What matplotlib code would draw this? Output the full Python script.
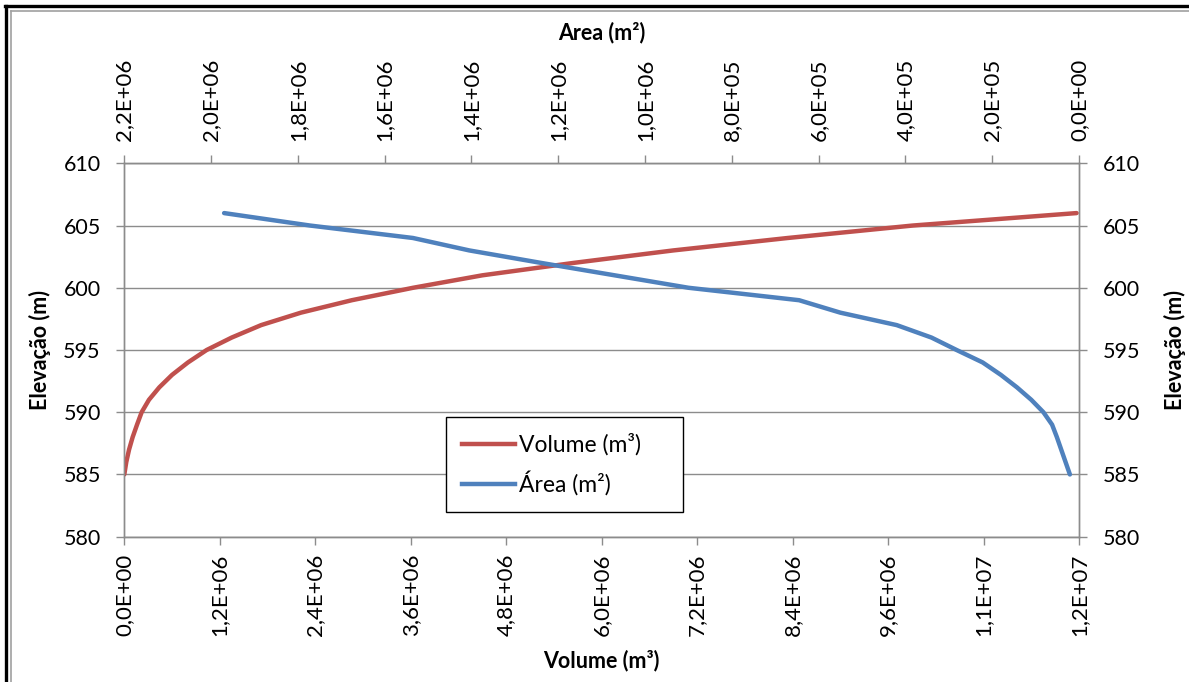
import matplotlib
matplotlib.use("Agg")
import matplotlib.pyplot as plt
from matplotlib.ticker import FixedLocator, FuncFormatter
from matplotlib.lines import Line2D

plt.rcParams['font.family'] = ['Lato', 'DejaVu Sans']

# ---- data ----
elevation = [585, 586, 587, 588, 589, 590, 591, 592, 593, 594, 595,
             596, 597, 598, 599, 600, 601, 602, 603, 604, 605, 606]
volume_m3 = [0.0e6, 0.025e6, 0.06e6, 0.105e6, 0.16e6, 0.218e6, 0.31e6, 0.44e6,
             0.60e6, 0.80e6, 1.035e6, 1.35e6, 1.72e6, 2.22e6, 2.86e6, 3.63e6,
             4.50e6, 5.65e6, 6.90e6, 8.34e6, 9.91e6, 11.97e6]
area_m2 = [0.021e6, 0.031e6, 0.041e6, 0.051e6, 0.062e6, 0.082e6, 0.11e6, 0.143e6,
           0.18e6, 0.222e6, 0.282e6, 0.34e6, 0.42e6, 0.55e6, 0.645e6, 0.90e6,
           1.07e6, 1.24e6, 1.405e6, 1.535e6, 1.772e6, 1.97e6]

volume_ticks = [0, 1.2e6, 2.4e6, 3.6e6, 4.8e6, 6.0e6, 7.2e6, 8.4e6, 9.6e6, 10.8e6, 12.0e6]
area_ticks = [2.2e6, 2.0e6, 1.8e6, 1.6e6, 1.4e6, 1.2e6, 1.0e6, 8e5, 6e5, 4e5, 2e5, 0]
elev_ticks = [580, 585, 590, 595, 600, 605, 610]

RED = '#C0504D'
BLUE = '#4F81BD'
GRID = '#8C8C8C'


def sci_comma(v, pos=None):
    return '{:.1E}'.format(v).replace('.', ',')


fig = plt.figure(figsize=(11.89, 6.82), dpi=100)
fig.patch.set_facecolor('white')

# outer frame (black + grey)
fig.add_artist(Line2D([0.0045, 1.0], [1 - 6 / 682, 1 - 6 / 682], color='black', lw=2.4,
                      transform=fig.transFigure))
fig.add_artist(Line2D([6 / 1189, 6 / 1189], [0, 1 - 6 / 682], color='black', lw=2.4,
                      transform=fig.transFigure))
fig.add_artist(Line2D([11 / 1189, 1.0], [1 - 11 / 682, 1 - 11 / 682], color='#A0A0A0', lw=1.2,
                      transform=fig.transFigure))
fig.add_artist(Line2D([11 / 1189, 11 / 1189], [0, 1 - 11 / 682], color='#A0A0A0', lw=1.2,
                      transform=fig.transFigure))

left, right_px, top_px, bottom_px = 124.3, 1079.0, 163.3, 536.7
ax = fig.add_axes([left / 1189, (682 - bottom_px) / 682,
                   (right_px - left) / 1189, (bottom_px - top_px) / 682])

ax.plot(volume_m3, elevation, color=RED, lw=3.2, solid_capstyle='round',
        solid_joinstyle='round', zorder=3)
ax.set_xlim(0, 12.0e6)
ax.set_ylim(580, 610)
ax.xaxis.set_major_locator(FixedLocator(volume_ticks))
ax.xaxis.set_major_formatter(FuncFormatter(sci_comma))
ax.yaxis.set_major_locator(FixedLocator(elev_ticks))
ax.grid(axis='y', color=GRID, lw=1.0)
ax.set_axisbelow(True)

for s in ax.spines.values():
    s.set_color(GRID)
    s.set_linewidth(1.0)

ax.tick_params(axis='x', which='major', direction='out', length=6, width=1, color=GRID,
               labelsize=16, labelrotation=90, pad=6)
ax.tick_params(axis='y', which='major', direction='out', length=6, width=1, color=GRID,
               labelsize=15.5, pad=11, right=True, labelright=True)
ax.set_xlabel('Volume (m³)', fontsize=15.5, fontweight='bold', labelpad=10)
ax.set_ylabel('Elevação (m)', fontsize=15.5, fontweight='bold', labelpad=9)

# right label
ax.text(1.0 + 96 / (right_px - left), 0.5, 'Elevação (m)', transform=ax.transAxes,
        rotation=90, fontsize=15.5, fontweight='bold', ha='center', va='center')

# top axis: area (reversed)
ax2 = ax.twiny()
ax2.plot(area_m2, elevation, color=BLUE, lw=3.2, solid_capstyle='round',
         solid_joinstyle='round', zorder=3)
ax2.set_xlim(2.2e6, 0)
ax2.set_ylim(580, 610)
ax2.xaxis.set_major_locator(FixedLocator(area_ticks))
ax2.xaxis.set_major_formatter(FuncFormatter(sci_comma))
ax2.tick_params(axis='x', which='major', direction='out', length=6, width=1, color=GRID,
                labelsize=16, labelrotation=90, pad=10)
for s in ax2.spines.values():
    s.set_color(GRID)
    s.set_linewidth(1.0)
ax2.set_xlabel('Area (m²)', fontsize=15.5, fontweight='bold', labelpad=14)

handles = [Line2D([], [], color=RED, lw=3.2), Line2D([], [], color=BLUE, lw=3.2)]
leg = ax2.legend(handles, ['Volume (m³)', 'Área (m²)'], loc='lower left',
                 bbox_to_anchor=(0.337, 0.067, 0.248, 0.239), mode='expand',
                 fontsize=16.5, frameon=True, fancybox=False, framealpha=1,
                 edgecolor='black', handlelength=2.3, handletextpad=0.2,
                 labelspacing=0.65, borderaxespad=0, borderpad=0.7)
leg.get_frame().set_linewidth(1.0)

fig.savefig('out.png', dpi=100)
